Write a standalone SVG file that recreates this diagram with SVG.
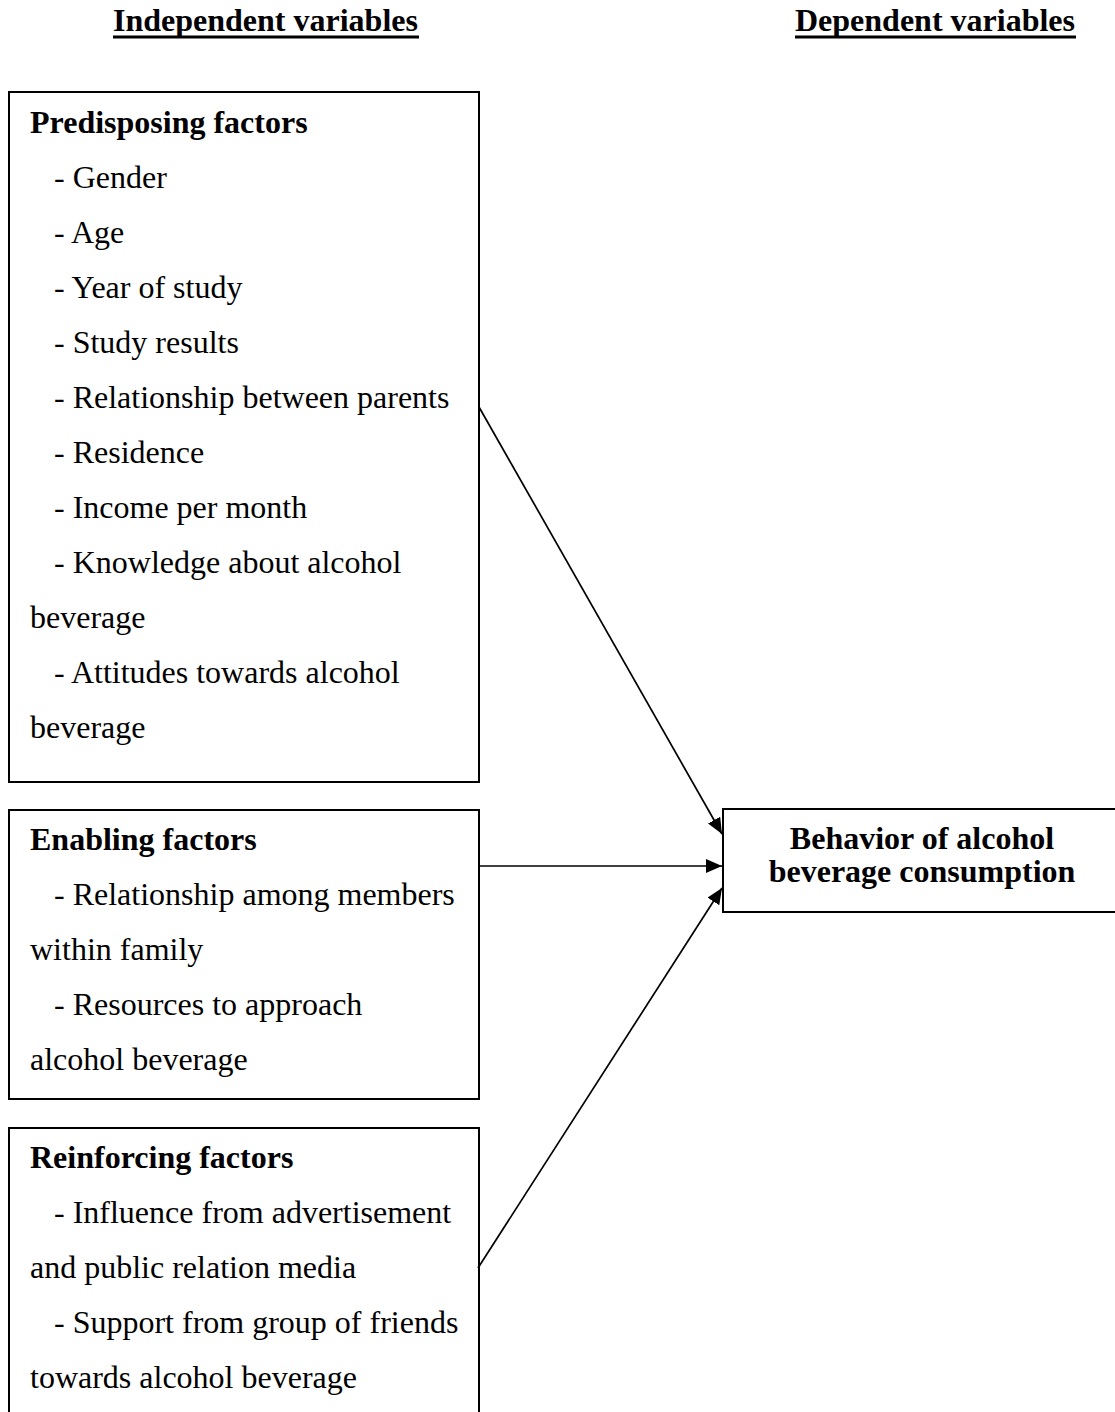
<svg xmlns="http://www.w3.org/2000/svg" width="1115" height="1412" viewBox="0 0 1115 1412">
<style>
text{font-family:"Liberation Serif","Times New Roman",serif;font-size:32px;fill:#000}
.b{font-weight:bold}
.box{fill:#fff;stroke:#000;stroke-width:2}
.conn{stroke:#000;stroke-width:1.7;fill:none;marker-end:url(#ah)}
.ul{stroke:#000;stroke-width:3}
</style>
<defs>
<marker id="ah" markerWidth="17" markerHeight="14" refX="16" refY="7" orient="auto" markerUnits="userSpaceOnUse">
<path d="M0,0 L16,7 L0,14 Z" fill="#000"/>
</marker>
</defs>
<g id="headings">
<text class="b" x="113" y="31">Independent variables</text>
<line class="ul" x1="113" y1="37" x2="419" y2="37"/>
<text class="b" x="795" y="31">Dependent variables</text>
<line class="ul" x1="795" y1="37" x2="1076" y2="37"/>
</g>
<g id="predisposing">
<rect class="box" x="9" y="92" width="470" height="690"/>
<text class="b" x="30" y="133">Predisposing factors</text>
<text x="54" y="188">- Gender</text>
<text x="54" y="243">- Age</text>
<text x="54" y="298">- Year of study</text>
<text x="54" y="353">- Study results</text>
<text x="54" y="408">- Relationship between parents</text>
<text x="54" y="463">- Residence</text>
<text x="54" y="518">- Income per month</text>
<text x="54" y="573">- Knowledge about alcohol</text>
<text x="30" y="628">beverage</text>
<text x="54" y="683">- Attitudes towards alcohol</text>
<text x="30" y="738">beverage</text>
</g>
<g id="enabling">
<rect class="box" x="9" y="810" width="470" height="289"/>
<text class="b" x="30" y="850">Enabling factors</text>
<text x="54" y="905">- Relationship among members</text>
<text x="30" y="960">within family</text>
<text x="54" y="1015">- Resources to approach</text>
<text x="30" y="1070">alcohol beverage</text>
</g>
<g id="reinforcing">
<rect class="box" x="9" y="1128" width="470" height="300"/>
<text class="b" x="30" y="1168">Reinforcing factors</text>
<text x="54" y="1223">- Influence from advertisement</text>
<text x="30" y="1278">and public relation media</text>
<text x="54" y="1333">- Support from group of friends</text>
<text x="30" y="1388">towards alcohol beverage</text>
</g>
<g id="behavior">
<rect class="box" x="723" y="809" width="400" height="103"/>
<text class="b" x="922" y="849" text-anchor="middle">Behavior of alcohol</text>
<text class="b" x="922" y="882" text-anchor="middle">beverage consumption</text>
</g>
<g id="connectors">
<line class="conn" x1="479" y1="407" x2="722" y2="834"/>
<line class="conn" x1="479" y1="866" x2="722" y2="866"/>
<line class="conn" x1="478" y1="1268" x2="722" y2="888"/>
</g>
</svg>
